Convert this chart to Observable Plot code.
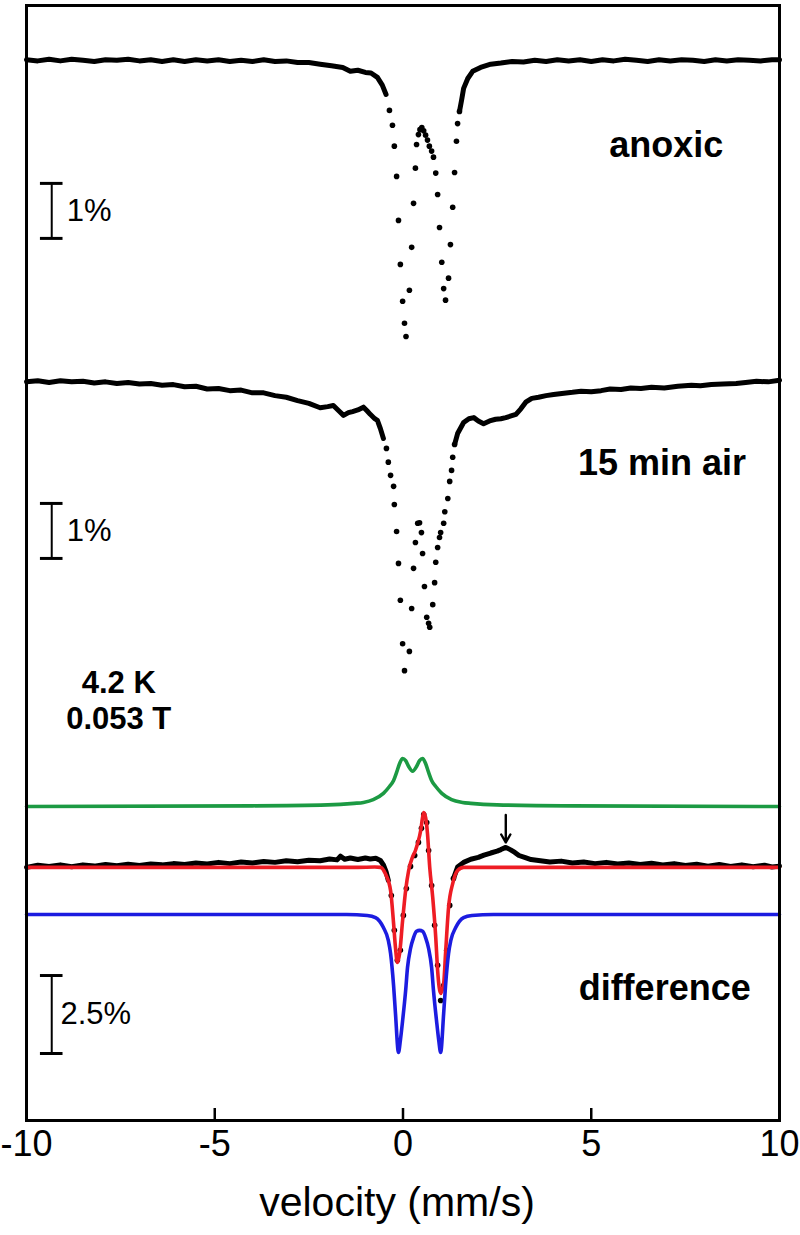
<!DOCTYPE html>
<html><head><meta charset="utf-8">
<script src="https://cdn.jsdelivr.net/npm/d3@7"></script>
<script src="https://cdn.jsdelivr.net/npm/@observablehq/plot@0.6"></script>
<style>body{margin:0;background:#fff;}</style>
</head><body><div id="chart"></div>
<script>
// ---------------- DATA (velocity mm/s, relative transmission %) ----------------
const xTicks = [-10, -5, 0, 5, 10];

// anoxic spectrum: continuous background (left/right) and resolved channels in the dip
const anoxicLeft = [[-10,0.01],[-9.7,-0.01],[-9.4,0.02],[-9.1,-0.01],[-8.8,0.02],[-8.5,0.00],[-8.2,-0.02],[-7.9,0.01],[-7.6,0.00],[-7.3,0.02],[-7.0,-0.01],[-6.7,0.01],[-6.4,-0.02],[-6.1,0.01],[-5.8,-0.02],[-5.5,0.01],[-5.2,-0.01],[-4.9,0.01],[-4.6,-0.02],[-4.3,0.00],[-4.0,-0.02],[-3.7,0.01],[-3.4,-0.02],[-3.1,-0.01],[-2.8,-0.04],[-2.5,-0.04],[-2.2,-0.07],[-1.9,-0.10],[-1.6,-0.13],[-1.4,-0.20],[-1.2,-0.18],[-1.0,-0.22],[-0.85,-0.23],[-0.68,-0.31],[-0.55,-0.45],[-0.45,-0.62]];
const anoxicDip = [[-0.36,-0.91],[-0.28,-1.18],[-0.23,-1.56],[-0.17,-2.11],[-0.12,-2.91],[-0.07,-3.71],[-0.01,-4.38],[0.04,-4.78],[0.08,-5.02],[0.17,-4.18],[0.23,-3.40],[0.28,-2.60],[0.33,-1.96],[0.36,-1.53],[0.41,-1.35],[0.45,-1.26],[0.50,-1.22],[0.55,-1.28],[0.60,-1.36],[0.65,-1.45],[0.70,-1.56],[0.76,-1.65],[0.81,-1.76],[0.87,-2.05],[0.92,-2.44],[0.97,-3.04],[1.03,-3.67],[1.08,-4.15],[1.13,-4.36],[1.21,-3.96],[1.26,-3.35],[1.32,-2.67],[1.37,-2.04],[1.42,-1.47],[1.45,-1.15],[1.50,-0.93]];
const anoxicRight = [[1.50,-0.93],[1.56,-0.71],[1.61,-0.51],[1.72,-0.33],[1.85,-0.20],[2.06,-0.13],[2.33,-0.07],[2.6,-0.05],[2.9,-0.02],[3.2,-0.03],[3.5,0.00],[3.8,-0.02],[4.1,0.01],[4.4,-0.01],[4.7,0.01],[5.0,-0.02],[5.3,0.01],[5.6,-0.01],[5.9,0.02],[6.2,0.00],[6.5,-0.02],[6.8,0.01],[7.1,-0.01],[7.4,0.01],[7.7,0.00],[8.0,-0.02],[8.3,0.01],[8.6,-0.01],[8.9,0.01],[9.2,0.00],[9.5,-0.01],[9.8,0.01],[10,0.01]];

// 15 min air spectrum
const airLeft = [[-10,0.01],[-9.7,0.03],[-9.4,0.00],[-9.1,0.03],[-8.8,0.01],[-8.5,0.02],[-8.2,-0.01],[-7.9,0.01],[-7.6,-0.02],[-7.3,0.00],[-7.0,-0.03],[-6.7,-0.02],[-6.4,-0.05],[-6.1,-0.04],[-5.8,-0.08],[-5.5,-0.07],[-5.2,-0.12],[-4.9,-0.11],[-4.6,-0.15],[-4.3,-0.14],[-4.0,-0.19],[-3.7,-0.19],[-3.4,-0.24],[-3.1,-0.27],[-2.8,-0.33],[-2.5,-0.38],[-2.2,-0.46],[-2.0,-0.44],[-1.85,-0.42],[-1.7,-0.52],[-1.58,-0.60],[-1.45,-0.55],[-1.34,-0.53],[-1.2,-0.50],[-1.05,-0.45],[-0.95,-0.52],[-0.87,-0.58],[-0.75,-0.66],[-0.68,-0.69],[-0.60,-0.84],[-0.52,-1.02]];
const airDip = [[-0.44,-1.20],[-0.39,-1.45],[-0.33,-1.69],[-0.25,-1.89],[-0.23,-2.22],[-0.17,-2.71],[-0.12,-3.29],[-0.07,-3.96],[-0.01,-4.75],[0.04,-5.24],[0.17,-4.89],[0.23,-4.11],[0.28,-3.38],[0.33,-2.91],[0.39,-2.56],[0.44,-2.55],[0.49,-2.73],[0.52,-3.11],[0.57,-3.71],[0.63,-4.27],[0.68,-4.38],[0.71,-4.45],[0.79,-4.04],[0.84,-3.64],[0.87,-3.27],[0.92,-3.00],[0.97,-2.82],[1.00,-2.73],[1.08,-2.56],[1.11,-2.35],[1.19,-2.11],[1.24,-1.80],[1.29,-1.60],[1.32,-1.36],[1.37,-1.13]];
const airRight = [[1.37,-1.13],[1.45,-0.93],[1.61,-0.73],[1.75,-0.66],[1.88,-0.64],[2.0,-0.70],[2.14,-0.75],[2.3,-0.70],[2.46,-0.67],[2.6,-0.66],[2.73,-0.64],[2.87,-0.61],[3.0,-0.58],[3.13,-0.48],[3.26,-0.36],[3.42,-0.29],[3.6,-0.27],[3.8,-0.24],[4.0,-0.22],[4.22,-0.20],[4.5,-0.18],[4.73,-0.16],[5.0,-0.17],[5.26,-0.15],[5.5,-0.12],[5.79,-0.13],[6.05,-0.10],[6.32,-0.11],[6.6,-0.09],[6.94,-0.10],[7.3,-0.07],[7.66,-0.05],[7.9,-0.06],[8.19,-0.04],[8.5,-0.03],[8.85,-0.02],[9.1,0.00],[9.39,0.02],[9.7,0.01],[10,0.04]];

// difference spectrum (data) and its fit components
const diffLeft = [[-10,-0.06],[-9.7,0.01],[-9.4,-0.03],[-9.1,0.02],[-8.8,-0.04],[-8.5,0.02],[-8.2,-0.02],[-7.9,0.03],[-7.6,-0.01],[-7.3,0.04],[-7.0,0.00],[-6.7,0.05],[-6.4,0.02],[-6.1,0.06],[-5.8,0.03],[-5.5,0.08],[-5.2,0.05],[-4.9,0.10],[-4.6,0.06],[-4.3,0.11],[-4.0,0.08],[-3.7,0.13],[-3.4,0.10],[-3.1,0.15],[-2.8,0.12],[-2.5,0.17],[-2.2,0.15],[-1.95,0.21],[-1.75,0.18],[-1.66,0.30],[-1.55,0.20],[-1.4,0.24],[-1.2,0.19],[-1.0,0.24],[-0.87,0.21],[-0.72,0.23],[-0.60,0.16],[-0.52,0.02],[-0.45,-0.20],[-0.39,-0.48]];
const diffDip = [[-0.31,-0.96],[-0.23,-2.08],[-0.15,-3.04],[-0.07,-2.72],[0.01,-1.60],[0.09,-0.74],[0.20,-0.03],[0.31,0.32],[0.41,0.74],[0.49,1.19],[0.55,1.63],[0.63,1.38],[0.68,0.48],[0.76,-0.64],[0.84,-1.92],[0.92,-3.20],[1.00,-4.33],[1.08,-3.85],[1.16,-2.72],[1.24,-1.28],[1.34,-0.42]];
const diffRight = [[1.34,-0.42],[1.45,-0.05],[1.61,0.10],[1.8,0.20],[2.0,0.26],[2.15,0.33],[2.33,0.40],[2.5,0.46],[2.6,0.51],[2.73,0.58],[2.86,0.50],[2.97,0.42],[3.08,0.32],[3.25,0.25],[3.4,0.19],[3.6,0.16],[3.9,0.11],[4.2,0.14],[4.5,0.08],[4.8,0.11],[5.1,0.06],[5.4,0.10],[5.7,0.05],[6.0,0.08],[6.3,0.03],[6.6,0.07],[6.9,0.02],[7.2,0.06],[7.5,0.00],[7.8,0.04],[8.1,-0.02],[8.4,0.03],[8.7,-0.03],[9.0,0.02],[9.3,-0.04],[9.6,0.01],[9.8,-0.05],[10,-0.02]];
const fitRed = [[-10,-0.06],[-1.2,-0.06],[-0.75,-0.05],[-0.60,-0.06],[-0.47,-0.26],[-0.33,-0.80],[-0.25,-1.86],[-0.20,-2.63],[-0.15,-3.11],[-0.09,-2.82],[-0.01,-1.76],[0.07,-0.80],[0.15,-0.16],[0.25,0.26],[0.33,0.48],[0.39,0.71],[0.47,1.12],[0.52,1.54],[0.55,1.70],[0.60,1.54],[0.65,1.03],[0.71,-0.06],[0.79,-1.03],[0.87,-2.31],[0.92,-3.37],[1.00,-4.10],[1.08,-3.78],[1.13,-2.82],[1.21,-1.35],[1.32,-0.58],[1.45,-0.16],[1.61,-0.06],[2.2,-0.06],[10,-0.06]];
const fitGreen = [[-10,0],[-4,0.02],[-2,0.05],[-1.3,0.10],[-1.05,0.13],[-0.79,0.22],[-0.52,0.42],[-0.36,0.64],[-0.25,0.83],[-0.17,1.09],[-0.09,1.38],[-0.01,1.54],[0.07,1.47],[0.15,1.28],[0.255,1.13],[0.36,1.28],[0.44,1.47],[0.52,1.54],[0.60,1.38],[0.68,1.09],[0.76,0.83],[0.87,0.64],[1.03,0.42],[1.29,0.22],[1.58,0.13],[1.8,0.10],[2.5,0.05],[4.5,0.02],[10,0]];
const fitBlue = [[-10,0],[-1.5,0],[-0.95,-0.03],[-0.73,-0.10],[-0.52,-0.42],[-0.39,-0.83],[-0.33,-1.25],[-0.25,-2.28],[-0.20,-3.17],[-0.12,-4.42],[-0.07,-4.04],[-0.01,-3.40],[0.07,-2.44],[0.12,-1.70],[0.20,-1.09],[0.28,-0.74],[0.36,-0.54],[0.44,-0.51],[0.52,-0.54],[0.60,-0.74],[0.68,-1.09],[0.76,-1.70],[0.81,-2.44],[0.89,-3.40],[0.95,-4.04],[1.00,-4.42],[1.08,-3.17],[1.13,-2.28],[1.21,-1.25],[1.27,-0.83],[1.40,-0.42],[1.61,-0.10],[1.83,-0.03],[2.4,0],[10,0]];

// scale bars (percent) and their labels
const barPercents = [1, 1, 2.5];
const barLabels = ["1%", "1%", "2.5%"];
const spectrumLabels = ["anoxic", "15 min air", "difference"];
const conditionLabels = ["4.2 K", "0.053 T"];
const arrowVelocity = 2.73;

// ---------------- LAYOUT (y unit = 1 % of the upper spectra) ----------------
const kTop = 1, kDiff = 0.567;
const base = {anoxic: 19.273, air: 13.418, green: 5.709, diff: 4.636, blue: 3.745};
const rows = (pairs, s, k) => pairs.map(([v, p]) => ({v, y: base[s] + p * k}));
const barLayout = [
  {x: -9.33, y0: 16.036, k: kTop, tx: -8.93},
  {x: -9.33, y0: 10.218, k: kTop, tx: -8.93},
  {x: -9.33, y0: 1.218, k: kDiff, tx: -9.1}
];
const bars = barPercents.map((p, i) => ({...barLayout[i], top: barLayout[i].y0 + p * barLayout[i].k, label: barLabels[i]}));
const labelPos = [{x: 6.99, y: 17.73}, {x: 6.88, y: 11.95}, {x: 6.95, y: 2.40}];
const condPos = [{x: -7.55, y: 7.95}, {x: -7.55, y: 7.30}];

const lineW = 5, dotR = 2.8, fitW = 3.6;
const green = "#1c9a43", red = "#ee1c24", blue = "#1c1ce0";

const chart = Plot.plot({
  width: 800, height: 1235,
  marginLeft: 26, marginRight: 21, marginTop: 5, marginBottom: 115,
  x: {domain: [-10, 10], axis: null},
  y: {domain: [0, 20.27], axis: null},
  style: {fontFamily: "'Liberation Sans', Arial, sans-serif", background: "#fff", color: "#000"},
  marks: [
    // upper spectra
    Plot.line(rows(anoxicLeft, "anoxic", kTop), {x: "v", y: "y", strokeWidth: lineW, stroke: "#000"}),
    Plot.line(rows(anoxicRight, "anoxic", kTop), {x: "v", y: "y", strokeWidth: lineW, stroke: "#000"}),
    Plot.dot(rows(anoxicDip, "anoxic", kTop), {x: "v", y: "y", r: dotR, fill: "#000"}),
    Plot.line(rows(airLeft, "air", kTop), {x: "v", y: "y", strokeWidth: lineW, stroke: "#000"}),
    Plot.line(rows(airRight, "air", kTop), {x: "v", y: "y", strokeWidth: lineW, stroke: "#000"}),
    Plot.dot(rows(airDip, "air", kTop), {x: "v", y: "y", r: dotR, fill: "#000"}),
    // difference panel
    Plot.line(rows(fitGreen, "green", kDiff), {x: "v", y: "y", strokeWidth: fitW, stroke: green, curve: "monotone-x"}),
    Plot.line(rows(diffLeft, "diff", kDiff), {x: "v", y: "y", strokeWidth: lineW, stroke: "#000"}),
    Plot.line(rows(diffRight, "diff", kDiff), {x: "v", y: "y", strokeWidth: lineW, stroke: "#000"}),
    Plot.dot(rows(diffDip, "diff", kDiff), {x: "v", y: "y", r: dotR, fill: "#000"}),
    Plot.line(rows(fitRed, "diff", kDiff), {x: "v", y: "y", strokeWidth: fitW, stroke: red, curve: "monotone-x"}),
    Plot.line(rows(fitBlue, "blue", kDiff), {x: "v", y: "y", strokeWidth: fitW, stroke: blue, curve: "monotone-x"}),
    Plot.arrow([arrowVelocity], {x1: d => d, x2: d => d, y1: base.diff + 1.62 * kDiff, y2: base.diff + 0.74 * kDiff, strokeWidth: 2.4, headLength: 10, stroke: "#000"}),
    // scale bars
    Plot.ruleX(bars, {x: "x", y1: "y0", y2: "top", strokeWidth: 2}),
    Plot.ruleY(bars, {y: "y0", x1: d => d.x - 0.3, x2: d => d.x + 0.3, strokeWidth: 3}),
    Plot.ruleY(bars, {y: "top", x1: d => d.x - 0.3, x2: d => d.x + 0.3, strokeWidth: 3}),
    Plot.text(bars, {x: "tx", y: d => (d.y0 + d.top) / 2, text: "label", textAnchor: "start", fontSize: 31}),
    // labels
    Plot.text(spectrumLabels, {x: (d, i) => labelPos[i].x, y: (d, i) => labelPos[i].y, text: d => d, fontSize: 36, fontWeight: "bold"}),
    Plot.text(conditionLabels, {x: (d, i) => condPos[i].x, y: (d, i) => condPos[i].y, text: d => d, fontSize: 31, fontWeight: "bold"}),
    // axis
    Plot.ruleX(xTicks, {x: d => d, y1: 0, y2: 12 / 55, strokeWidth: 2.5}),
    Plot.text(xTicks, {x: d => d, text: d => String(d), frameAnchor: "bottom", lineAnchor: "top", dy: 10, fontSize: 36}),
    Plot.text(["velocity (mm/s)"], {frameAnchor: "bottom", lineAnchor: "middle", dy: 82, dx: -6, fontSize: 41}),
    Plot.frame({strokeWidth: 3})
  ]
});
document.getElementById("chart").appendChild(chart);
</script></body></html>
